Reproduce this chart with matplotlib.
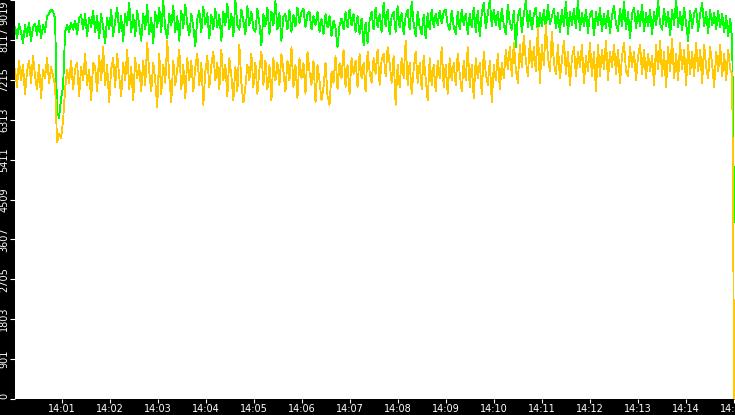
import numpy as np
import pandas as pd
import matplotlib
matplotlib.use('Agg')
import matplotlib.pyplot as plt
import matplotlib.dates as mdates

# valores (uma amostra a cada ~2.5 s)
inicio = '2024-01-01 14:00:01'
fim = '2024-01-01 14:15:00'

serie_verde = [
    8420, 8150, 8480, 8300, 8050, 8450, 8200, 8500, 8100, 8400, 8480, 8220, 8550, 8150, 8450, 8300, 8650, 8720, 8800, 8760,
    8600, 6500, 6350, 6800, 7050, 8300, 8450, 8300, 8500, 8350, 8550, 8250, 8600, 8680, 8350, 8700, 8200, 8620, 8400, 8780,
    8300, 8650, 8150, 8700, 8400, 8050, 8620, 8350, 8800, 8200, 8550, 8850, 8300, 8650, 8100, 8700, 8450, 8950, 8300, 8680,
    8200, 8780, 8450, 8100, 8700, 8350, 8900, 8250, 8620, 8050, 8750, 8400, 8850, 8300, 9000, 8380, 8150, 8700, 8450, 8880,
    8300, 8650, 8100, 8780, 8380, 8920, 8480, 8220, 8700, 8420, 7980, 8600, 8780, 8300, 8860, 8480, 8720, 8150, 8680, 8350,
    8820, 8400, 8680, 8100, 8760, 8450, 8930, 8350, 8700, 8200, 9019, 8450, 8350, 8800, 8550, 8250, 8880, 8450, 8750, 8380,
    8300, 8820, 8480, 8000, 8700, 8420, 8850, 8250, 8760, 8450, 9000, 8350, 8720, 8100, 8650, 8700, 8350, 8800, 8300, 8680,
    8420, 8850, 8500, 8750, 8820, 8400, 8700, 8750, 8350, 8650, 8450, 8750, 8300, 8600, 8250, 8700, 8400, 8650, 8200, 8550,
    8380, 7950, 8450, 8600, 8350, 8750, 8400, 8800, 8450, 8700, 8300, 8650, 8250, 8600, 8000, 8500, 8050, 8550, 8750, 8350,
    8850, 8400, 8700, 8300, 8950, 8420, 8800, 8250, 8650, 8750, 8300, 8880, 8400, 8720, 8250, 8650, 8800, 8350, 8980, 8480,
    8200, 8750, 8400, 8250, 8680, 8150, 8720, 8350, 8800, 8400, 8700, 8450, 8780, 8500, 8750, 8800, 8450, 8350, 8780, 8420,
    8250, 8750, 8350, 8800, 8450, 8700, 8250, 8700, 8400, 8850, 8300, 8780, 8200, 8720, 8950, 8380, 8700, 9019, 8420, 8800,
    8450, 8750, 8350, 8820, 8450, 8250, 8920, 8500, 8350, 8780, 7950, 8650, 8820, 8300, 8700, 9000, 8400, 8780, 8350, 8700,
    8850, 8250, 8720, 8420, 8800, 8350, 8920, 8480, 8650, 8820, 8380, 8720, 8300, 8800, 8420, 8980, 8250, 8750, 8450, 8820,
    8380, 9019, 8330, 8720, 8420, 8800, 8280, 8700, 8780, 8220, 8750, 8440, 8830, 8320, 8700, 8380, 8780, 8280, 8660, 8880,
    8480, 8320, 8820, 8420, 8980, 8350, 8750, 8150, 8700, 8850, 8380, 8780, 8430, 8920, 8320, 8720, 8420, 8800, 8250, 8750,
    8440, 9000, 8480, 8350, 8820, 8420, 8750, 8220, 8800, 8460, 9019, 8400, 8740, 8330, 8850, 8480, 8100, 8780, 8380, 8720,
    8820, 8320, 8700, 8950, 8420, 8750, 8280, 8800, 8440, 8720, 8350, 8780, 8400, 8700, 8300, 8650, 8200, 8600, 8100, 4000,
]

serie_amarela = [
    7450, 7050, 7650, 7200, 7550, 6900, 7400, 7650, 7150, 7750, 7300, 7000, 7550, 6800, 7450, 7250, 7700, 7150, 7500, 7300,
    7100, 5800, 6000, 5900, 6300, 7000, 7450, 7150, 7650, 7000, 7450, 7600, 6850, 7500, 7200, 7800, 7100, 7450, 6750, 7600,
    7500, 6950, 7750, 7200, 7950, 7100, 7550, 6700, 7450, 7700, 7050, 7800, 7300, 6850, 7600, 7200, 7900, 7000, 7500, 6750,
    7700, 7250, 7550, 6950, 7650, 7100, 8050, 7400, 6950, 7600, 7200, 6600, 7800, 6900, 7550, 7150, 8100, 7300, 6700, 7650,
    7100, 7450, 7900, 7000, 7550, 6800, 7700, 7200, 7650, 6950, 7500, 7800, 7100, 7600, 6650, 7400, 7750, 7050, 7550, 7850,
    7200, 7600, 7000, 7900, 7200, 7550, 6850, 7700, 7300, 6750, 7500, 6950, 8000, 7150, 6700, 7050, 7550, 7200, 7800, 7050,
    7600, 6900, 7450, 7850, 7100, 7650, 7000, 7550, 6750, 7700, 7200, 7600, 7100, 7800, 7400, 6950, 7650, 7200, 7950, 7050,
    7550, 6800, 7700, 7250, 7600, 6900, 7850, 7400, 7100, 7650, 6700, 7550, 7200, 6750, 7050, 7600, 6850, 6650, 7400, 7150,
    7750, 7000, 7600, 7250, 7900, 7050, 7550, 6900, 7700, 7350, 7650, 7050, 7800, 7250, 7600, 6950, 7850, 7400, 7150, 7700,
    7350, 7900, 7100, 7650, 7800, 7300, 7950, 7600, 7150, 7750, 6650, 7550, 7050, 7700, 7250, 8100, 7100, 7600, 6900, 7450,
    7850, 7150, 7600, 7000, 7750, 7250, 6750, 7700, 7100, 7550, 6950, 7650, 7250, 7950, 7050, 7550, 6900, 7700, 7200, 7600,
    7100, 7800, 7350, 6950, 7650, 7200, 7950, 7050, 7550, 6800, 7700, 7250, 7600, 6900, 7850, 7350, 7100, 7650, 6700, 7550,
    7200, 7800, 7000, 7600, 7250, 7900, 7450, 7950, 7300, 8050, 7450, 7150, 8000, 7500, 8200, 7650, 7300, 8100, 7500, 7950,
    7400, 8400, 7150, 8000, 7550, 8450, 7750, 7400, 8300, 7600, 7350, 8000, 7250, 7650, 8100, 7350, 7850, 7100, 7700, 7950,
    7300, 7850, 7500, 8000, 7150, 7750, 7400, 8050, 7300, 7850, 6950, 8000, 7300, 7900, 7450, 8100, 7200, 7850, 7500, 8000,
    7350, 7900, 7150, 7750, 8050, 7400, 7300, 7950, 7500, 7850, 7200, 7750, 8000, 7350, 7900, 7250, 7800, 7400, 7750, 7100,
    8000, 7450, 8100, 7300, 7850, 7050, 7950, 7400, 8150, 7250, 7800, 7200, 8050, 7450, 7900, 7100, 8000, 7350, 7850, 7300,
    8050, 7400, 7900, 7150, 8000, 7500, 7250, 7950, 7550, 7050, 7850, 7400, 8000, 7300, 7800, 7200, 7900, 7450, 7350, 0,
]

valor_maximo = 9019
rotulos_y = ['0', '901', '1803', '2705', '3607', '4509',
             '5411', '6313', '7215', '8117', '9019']

tempos = pd.date_range(inicio, fim, periods=len(serie_verde))

fig = plt.figure(figsize=(7.35, 4.15), dpi=100, facecolor='black')
ax = fig.add_axes([15 / 735, 16 / 415, 720 / 735, 399 / 415])
ax.set_facecolor('white')

ax.plot(tempos, serie_verde, color='#00ff00', linewidth=0.6, antialiased=False)
ax.plot(tempos, serie_amarela, color='#ffc800', linewidth=0.6, antialiased=False)

ax.set_ylim(0, valor_maximo)
ax.set_xlim(pd.Timestamp(inicio), pd.Timestamp(fim) + pd.Timedelta(seconds=1))

ticks_y = np.linspace(0, valor_maximo, len(rotulos_y))
ax.set_yticks(ticks_y)
ax.set_yticklabels(rotulos_y, rotation=90, va='center', color='white',
                   fontsize=7)
labels = ax.get_yticklabels()
labels[0].set_va('bottom')
labels[-1].set_va('top')

ax.xaxis.set_major_locator(mdates.MinuteLocator())
ax.xaxis.set_major_formatter(mdates.DateFormatter('%H:%M'))

ax.tick_params(axis='y', colors='white', length=3.5, width=0.8, pad=0.5)
ax.tick_params(axis='x', colors='white', length=3, width=0.8, pad=0.5,
               labelsize=7)

for lado in ax.spines.values():
    lado.set_visible(False)

fig.savefig('out.png', dpi=100, facecolor='black')
